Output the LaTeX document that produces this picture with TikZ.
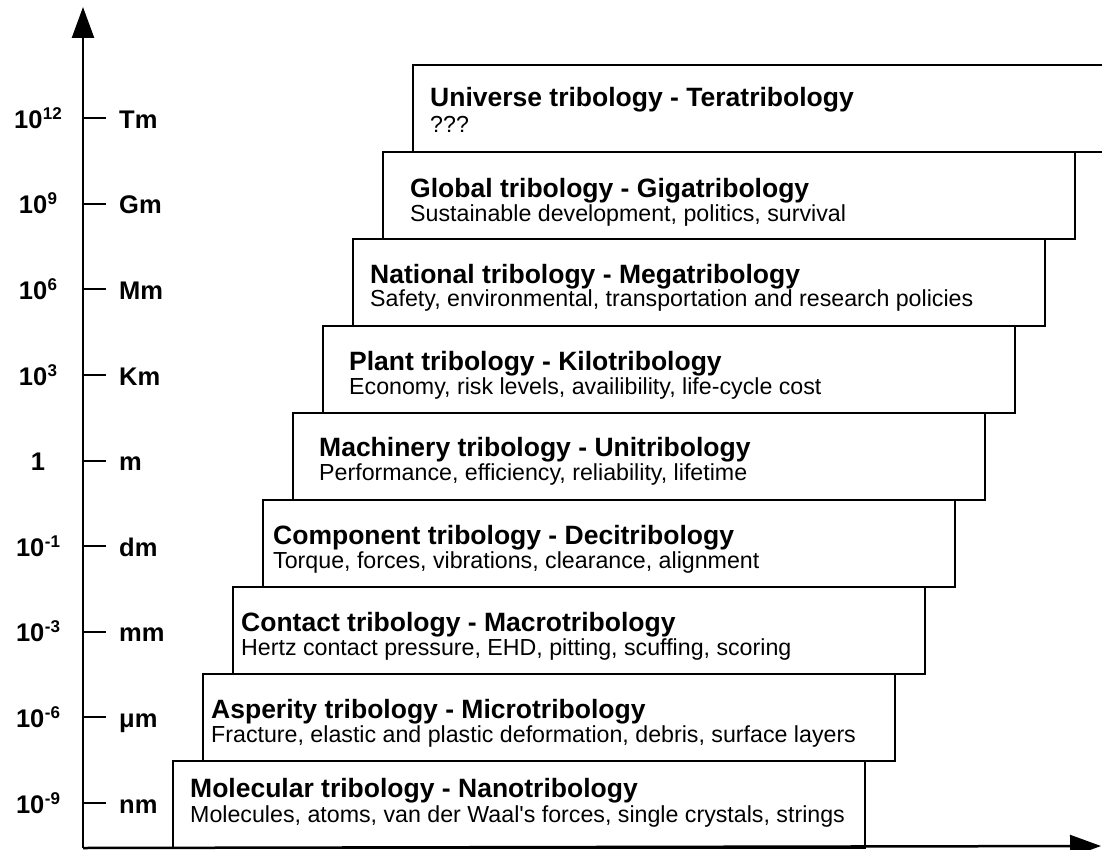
\documentclass[tikz,border=0pt]{standalone}
\usepackage{fontspec}
\setmainfont{Liberation Sans}
\usepackage{tikz}
\usetikzlibrary{arrows.meta, positioning}
\tikzstyle{tribobox} = [rectangle, draw=black, line width=1.3pt, fill=white, minimum width=692pt, minimum height=87pt, inner sep=0pt, outer sep=0pt, anchor=north west]
\tikzstyle{boxtitle} = [font=\fontsize{26.5}{28}\selectfont\bfseries, inner sep=0pt, anchor=base west]
\tikzstyle{boxtext} = [font=\fontsize{23.2}{25}\selectfont, inner sep=0pt, anchor=base west]
\tikzstyle{scalelabel} = [font=\fontsize{25.5}{27}\selectfont\bfseries, inner sep=0pt]
\tikzstyle{axisline} = [line width=2.5pt, -{Triangle[length=31pt, width=22pt]}]
\tikzstyle{tick} = [line width=2pt]
\newcommand\expo[1]{\kern0.5pt\raisebox{9pt}{\fontsize{17}{18}\selectfont#1}}

\begin{document}
\begin{tikzpicture}[x=1pt, y=-1pt]
    \useasboundingbox (0,0) rectangle (1102,850);

    % stacked boxes, nano at the bottom
    \node[tribobox] (nano) at (173,761) {};
    \node[tribobox, above=0pt of nano.north west, anchor=south west, xshift=30pt] (micro) {};
    \node[tribobox, above=0pt of micro.north west, anchor=south west, xshift=30pt] (macro) {};
    \node[tribobox, above=0pt of macro.north west, anchor=south west, xshift=30pt] (deci) {};
    \node[tribobox, above=0pt of deci.north west, anchor=south west, xshift=30pt] (uni) {};
    \node[tribobox, above=0pt of uni.north west, anchor=south west, xshift=30pt] (kilo) {};
    \node[tribobox, above=0pt of kilo.north west, anchor=south west, xshift=30pt] (mega) {};
    \node[tribobox, above=0pt of mega.north west, anchor=south west, xshift=30pt] (giga) {};
    \node[tribobox, above=0pt of giga.north west, anchor=south west, xshift=30pt] (tera) {};

    \node[boxtitle] (nanotitle) at ([shift={(17,36)}]nano.north west) {Molecular tribology - Nanotribology};
    \node[boxtext] (nanotext) at ([shift={(17,61)}]nano.north west) {Molecules, atoms, van der Waal\textquotesingle s forces, single crystals, strings};
    \node[boxtitle] (microtitle) at ([shift={(8,44)}]micro.north west) {Asperity tribology - Microtribology};
    \node[boxtext] (microtext) at ([shift={(8,68)}]micro.north west) {Fracture, elastic and plastic deformation, debris, surface layers};
    \node[boxtitle] (macrotitle) at ([shift={(8,44)}]macro.north west) {Contact tribology - Macrotribology};
    \node[boxtext] (macrotext) at ([shift={(8,68)}]macro.north west) {Hertz contact pressure, EHD, pitting, scuffing, scoring};
    \node[boxtitle] (decititle) at ([shift={(10,44)}]deci.north west) {Component tribology - Decitribology};
    \node[boxtext] (decitext) at ([shift={(10,68)}]deci.north west) {Torque, forces, vibrations, clearance, alignment};
    \node[boxtitle] (unititle) at ([shift={(26,43)}]uni.north west) {Machinery tribology - Unitribology};
    \node[boxtext] (unitext) at ([shift={(26,67)}]uni.north west) {Performance, efficiency, reliability, lifetime};
    \node[boxtitle] (kilotitle) at ([shift={(26,44)}]kilo.north west) {Plant tribology - Kilotribology};
    \node[boxtext] (kilotext) at ([shift={(26,68)}]kilo.north west) {Economy, risk levels, availibility, life-cycle cost};
    \node[boxtitle] (megatitle) at ([shift={(17,44)}]mega.north west) {National tribology - Megatribology};
    \node[boxtext] (megatext) at ([shift={(17,67)}]mega.north west) {Safety, environmental, transportation and research policies};
    \node[boxtitle] (gigatitle) at ([shift={(27,46)}]giga.north west) {Global tribology - Gigatribology};
    \node[boxtext] (gigatext) at ([shift={(27,70)}]giga.north west) {Sustainable development, politics, survival};
    \node[boxtitle] (teratitle) at ([shift={(17,42)}]tera.north west) {Universe tribology - Teratribology};
    \node[boxtext] (teratext) at ([shift={(17,68)}]tera.north west) {???};

    % axes
    \coordinate (origin) at (83,848);
    \coordinate (ytip) at (83,7);
    \coordinate (xtip) at (1101,846);
    \draw[axisline] (origin) -- (ytip);
    \draw[axisline] (origin) -- (xtip);

    % length scale
    \foreach \pow/\unit [count=\i from 0] in {{10\expo{-9}}/nm, {10\expo{-6}}/μm, {10\expo{-3}}/mm,
        {10\expo{-1}}/dm, 1/m, {10\expo{3}}/Km, {10\expo{6}}/Mm, {10\expo{9}}/Gm, {10\expo{12}}/Tm} {
        \pgfmathsetmacro\y{803-85.6*\i}
        \coordinate (tick\i) at (83,\y);
        \draw[tick] (tick\i) -- ++(23,0);
        \node[scalelabel, anchor=base] (pow\i) at (38,\y+10) {\pow};
        \node[scalelabel, anchor=base west] (unit\i) at (119,\y+10) {\unit};
    }
\end{tikzpicture}
\end{document}
